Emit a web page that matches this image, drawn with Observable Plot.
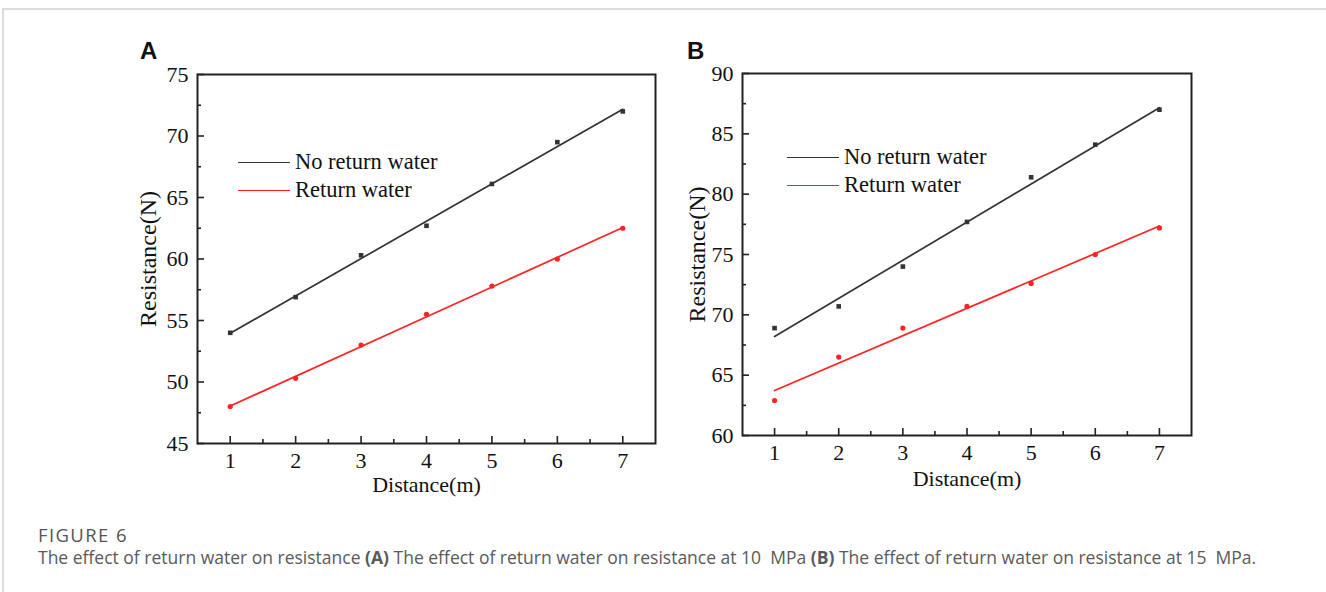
<!DOCTYPE html>
<html>
<head>
<meta charset="utf-8">
<script src="https://cdn.jsdelivr.net/npm/d3@7"></script>
<script src="https://cdn.jsdelivr.net/npm/@observablehq/plot@0.6"></script>
<style>
  html, body { margin: 0; padding: 0; background: #fff; }
  body { width: 1326px; height: 592px; position: relative; overflow: hidden; }
  .card { position: absolute; left: 2px; top: 8px; right: -10px; bottom: -10px;
          border-top: 2px solid #dcdcdc; border-left: 2px solid #dcdcdc; }
  .panel { position: absolute; }
  .panel svg { overflow: visible; }
  .letter { position: absolute; font: bold 24px "Liberation Sans", Arial, sans-serif; color: #111; }
  .legend { position: absolute; font: 22.5px "Liberation Serif", "Times New Roman", serif; color: #111; }
  .legend .row { display: flex; align-items: center; height: 28px; white-space: nowrap; }
  .legend .sw { width: 52px; height: 0; margin-right: 5px; }
  .cap-head { position: absolute; left: 38px; top: 522px; font: 18.5px "Open Sans", sans-serif; letter-spacing: 1.4px; color: #555; }
  .cap-text { position: absolute; left: 38px; top: 545px; font: 17.5px "Open Sans", sans-serif; color: #5a5a5a; white-space: nowrap; }
</style>
</head>
<body>
<div class="card"></div>
<div id="root"></div>
<div class="cap-head">FIGURE 6</div>
<div class="cap-text">The effect of return water on resistance <b>(A)</b> The effect of return water on resistance at 10&nbsp; MPa <b>(B)</b> The effect of return water on resistance at 15&nbsp; MPa.</div>
<script>
// Measured resistance along the pipe, with and without return water
const distance = [1, 2, 3, 4, 5, 6, 7];
const seriesNames = ["No return water", "Return water"];
const seriesColors = ["#333333", "#ff2222"];

// (A) 10 MPa
const noReturnA = [54.0, 56.9, 60.3, 62.7, 66.1, 69.5, 72.0];
const returnA = [48.0, 50.3, 53.0, 55.5, 57.8, 60.0, 62.5];
// (B) 15 MPa
const noReturnB = [68.9, 70.7, 74.0, 77.7, 81.4, 84.1, 87.0];
const returnB = [62.9, 66.5, 68.9, 70.7, 72.6, 75.0, 77.2];

const xTicks = [1, 2, 3, 4, 5, 6, 7];
const xMinor = [1.5, 2.5, 3.5, 4.5, 5.5, 6.5];
const yTicksA = [45, 50, 55, 60, 65, 70, 75];
const yMinorA = [47.5, 52.5, 57.5, 62.5, 67.5, 72.5];
const yTicksB = [60, 65, 70, 75, 80, 85, 90];
const yMinorB = [62.5, 67.5, 72.5, 77.5, 82.5, 87.5];

const xTitle = "Distance(m)";
const yTitle = "Resistance(N)";

function tidy(a, b) {
  return distance.flatMap((d, i) => [
    {x: d, y: a[i], s: seriesNames[0]},
    {x: d, y: b[i], s: seriesNames[1]}
  ]);
}

function panel(cfg) {
  const data = tidy(cfg.a, cfg.b);
  const fw = cfg.width - cfg.ml - cfg.mr;
  const fh = cfg.height - cfg.mt - cfg.mb;
  const black = data.filter(d => d.s === seriesNames[0]);
  const red = data.filter(d => d.s === seriesNames[1]);
  const plot = Plot.plot({
    width: cfg.width,
    height: cfg.height,
    marginLeft: cfg.ml, marginRight: cfg.mr, marginTop: cfg.mt, marginBottom: cfg.mb,
    style: {fontFamily: "'Liberation Serif', 'Times New Roman', serif", fontSize: "22px", color: "#111", background: "transparent"},
    x: {domain: [0.5, 7.5]},
    y: {domain: cfg.yDomain},
    marks: [
      Plot.linearRegressionY(black, {x: "x", y: "y", stroke: seriesColors[0], strokeWidth: 1.7, ci: 0}),
      Plot.linearRegressionY(red, {x: "x", y: "y", stroke: seriesColors[1], strokeWidth: 1.7, ci: 0}),
      Plot.dot(black, {x: "x", y: "y", symbol: "square", r: 2.6, fill: seriesColors[0], stroke: "none"}),
      Plot.dot(red, {x: "x", y: "y", symbol: "circle", r: 2.6, fill: seriesColors[1], stroke: "none"}),
      // inward tick marks
      Plot.ruleX(xTicks, {x: d => d, insetTop: fh - 7, stroke: "#222", strokeWidth: 1.6}),
      Plot.ruleX(xMinor, {x: d => d, insetTop: fh - 4, stroke: "#222", strokeWidth: 1.6}),
      Plot.ruleY(cfg.yTicks, {y: d => d, insetRight: fw - 7, stroke: "#222", strokeWidth: 1.6}),
      Plot.ruleY(cfg.yMinor, {y: d => d, insetRight: fw - 4, stroke: "#222", strokeWidth: 1.6}),
      Plot.frame({stroke: "#222", strokeWidth: 2}),
      Plot.axisX(xTicks, {tickSize: 0, tickPadding: 9, label: null, fontSize: 22}),
      Plot.axisY(cfg.yTicks, {tickSize: 0, tickPadding: 9, label: null, fontSize: 22}),
      Plot.text([xTitle], {frameAnchor: "bottom", lineAnchor: "middle", dy: cfg.xTitleDy, fontSize: 22, fill: "#111"}),
      Plot.text([yTitle], {frameAnchor: "left", textAnchor: "middle", lineAnchor: "middle", dx: -cfg.yTitleDx, rotate: -90, fontSize: 24, fill: "#111"})
    ]
  });
  const wrap = document.createElement("div");
  wrap.className = "panel";
  wrap.style.left = cfg.left + "px";
  wrap.style.top = cfg.top + "px";
  wrap.appendChild(plot);
  document.getElementById("root").appendChild(wrap);

  const letter = document.createElement("div");
  letter.className = "letter";
  letter.textContent = cfg.letter;
  letter.style.left = cfg.letterX + "px";
  letter.style.top = cfg.letterY + "px";
  document.body.appendChild(letter);

  const leg = document.createElement("div");
  leg.className = "legend";
  leg.style.left = cfg.legX + "px";
  leg.style.top = cfg.legY + "px";
  seriesNames.forEach((name, i) => {
    const row = document.createElement("div");
    row.className = "row";
    const sw = document.createElement("div");
    sw.className = "sw";
    sw.style.borderTop = "1.7px solid " + seriesColors[i];
    const t = document.createElement("span");
    t.textContent = name;
    row.appendChild(sw);
    row.appendChild(t);
    leg.appendChild(row);
  });
  document.body.appendChild(leg);
}

panel({
  a: noReturnA, b: returnA, yDomain: [45, 75], yTicks: yTicksA, yMinor: yMinorA,
  left: 100, top: 40, width: 580, height: 470, ml: 97, mr: 25, mt: 34, mb: 67,
  xTitleDy: 41, yTitleDx: 49,
  letter: "A", letterX: 140, letterY: 37,
  legX: 238, legY: 148
});

panel({
  a: noReturnB, b: returnB, yDomain: [60, 90], yTicks: yTicksB, yMinor: yMinorB,
  left: 650, top: 40, width: 570, height: 470, ml: 92, mr: 29, mt: 33, mb: 75,
  xTitleDy: 43, yTitleDx: 45,
  letter: "B", letterX: 687, letterY: 37,
  legX: 787, legY: 143
});
</script>
</body>
</html>
